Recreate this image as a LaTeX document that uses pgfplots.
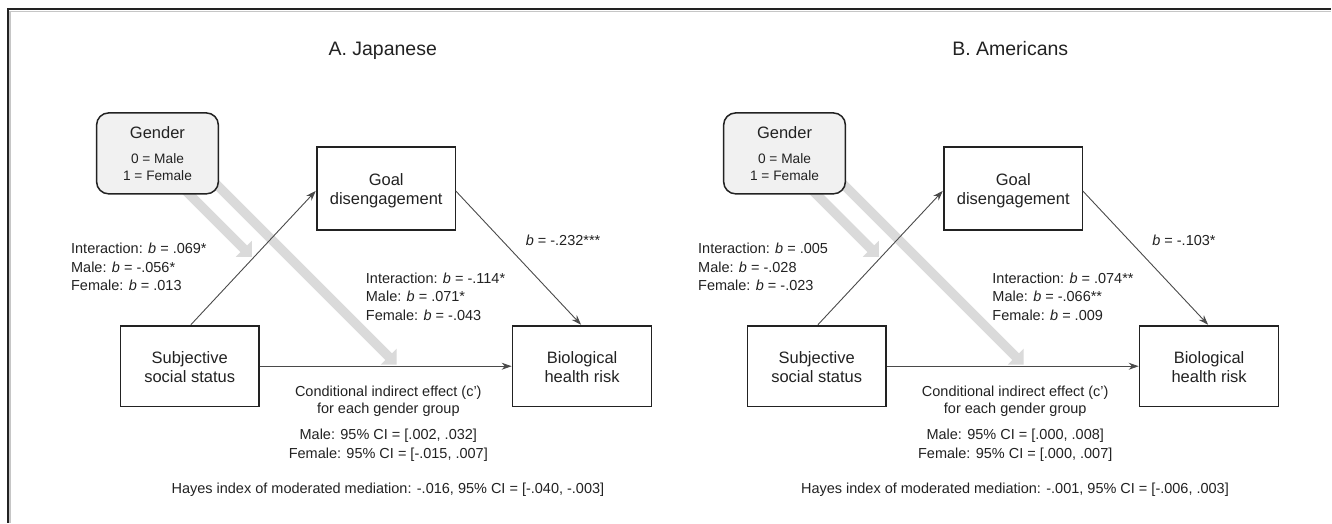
\documentclass[border=0pt]{standalone}
\usepackage{pgfplots}
\pgfplotsset{compat=1.18}
\usepackage{fontspec}
\setmainfont{Liberation Sans}
\usetikzlibrary{arrows.meta}
\definecolor{band}{HTML}{DADADA}
\definecolor{boxfill}{HTML}{F1F1F1}
\definecolor{ink}{HTML}{222222}
\definecolor{arr}{HTML}{4A4A4A}
\newcommand\ft{\fontsize{19.5bp}{23bp}\selectfont}
\newcommand\fb{\fontsize{16.5bp}{19bp}\selectfont}
\newcommand\fa{\fontsize{14.5bp}{17bp}\selectfont}
\newcommand\fs{\fontsize{13.7bp}{16bp}\selectfont}
\begin{document}
\begin{tikzpicture}
\begin{axis}[width=1332bp, height=523bp, scale only axis,
  xmin=0, xmax=1332, ymin=0, ymax=523, y dir=reverse,
  hide axis, clip=false]
% background
\addplot[draw=none, fill=white] coordinates {(0,0) (1332,0) (1332,523) (0,523)} -- cycle;
% frame
\addplot[gray!45, line width=1.2bp] coordinates {(10,523) (10,11.3) (1332,11.3)};
\addplot[ink, line width=2bp] coordinates {(8.5,523) (8.5,9.5) (1332,9.5)};

% ===== Panel A =====
\addplot[draw=none, fill=band] coordinates {(183.36,181.64) (247.36,245.64) (252,241) (252,257) (236,257) (240.64,252.36) (176.64,188.36)} -- cycle;
\addplot[draw=none, fill=band] coordinates {(210.36,171.64) (392.36,353.64) (397,349) (397,365) (381,365) (385.64,360.36) (203.64,178.36)} -- cycle;
\addplot[ink, line width=1.5bp, fill=boxfill, rounded corners=12bp] coordinates {(96.7,113) (218.5,113) (218.5,194) (96.7,194)} -- cycle;
\addplot[ink, line width=1.5bp, fill=white] coordinates {(317,147) (456,147) (456,230) (317,230)} -- cycle;
\addplot[ink, line width=1.5bp, fill=white] coordinates {(120.5,326) (259,326) (259,407) (120.5,407)} -- cycle;
\addplot[ink, line width=1.5bp, fill=white] coordinates {(513,326) (652,326) (652,407) (513,407)} -- cycle;
\addplot[arr, line width=0.9bp, -{Stealth[length=10bp,width=7bp]}] coordinates {(191,325) (316,191)};
\addplot[arr, line width=0.9bp, -{Stealth[length=10bp,width=7bp]}] coordinates {(456,191) (581.5,325)};
\addplot[arr, line width=0.9bp, -{Stealth[length=10bp,width=7bp]}] coordinates {(259.8,366.5) (512,366.5)};

\begin{scope}[every node/.style={inner sep=0pt, text=ink}]
\node[anchor=base] at (axis cs:383,56) {\ft A. Japanese};
\node[anchor=base] at (axis cs:157.6,139) {\fb Gender};
\node[anchor=base] at (axis cs:157.6,164) {\fs 0 = Male};
\node[anchor=base] at (axis cs:157.6,181) {\fs 1 = Female};
\node[anchor=base] at (axis cs:386.5,186) {\fb Goal};
\node[anchor=base] at (axis cs:386.5,205) {\fb disengagement};
\node[anchor=base] at (axis cs:189.8,364) {\fb Subjective};
\node[anchor=base] at (axis cs:189.8,383) {\fb social status};
\node[anchor=base] at (axis cs:582.5,364) {\fb Biological};
\node[anchor=base] at (axis cs:582.5,383) {\fb health risk};
\node[anchor=base west] at (axis cs:71,254) {\fa Interaction: \textit{b} = .069*};
\node[anchor=base west] at (axis cs:71,272.5) {\fa Male: \textit{b} = -.056*};
\node[anchor=base west] at (axis cs:71,291) {\fa Female: \textit{b} = .013};
\node[anchor=base west] at (axis cs:526,246) {\fa \textit{b} = -.232***};
\node[anchor=base west] at (axis cs:366,284) {\fa Interaction: \textit{b} = -.114*};
\node[anchor=base west] at (axis cs:366,302) {\fa Male: \textit{b} = .071*};
\node[anchor=base west] at (axis cs:366,320.5) {\fa Female: \textit{b} = -.043};
\node[anchor=base] at (axis cs:388.6,397) {\fa Conditional indirect effect (c')};
\node[anchor=base] at (axis cs:388.6,414) {\fa for each gender group};
\node[anchor=base] at (axis cs:388.6,440) {\fa Male: 95\% CI = [.002, .032]};
\node[anchor=base] at (axis cs:388.6,459) {\fa Female: 95\% CI = [-.015, .007]};
\node[anchor=base] at (axis cs:388.2,494) {\fa Hayes index of moderated mediation: -.016, 95\% CI = [-.040, -.003]};
\end{scope}

% ===== Panel B (offset 627.5) =====
\addplot[draw=none, fill=band] coordinates {(810.86,181.64) (874.86,245.64) (879.5,241) (879.5,257) (863.5,257) (868.14,252.36) (804.14,188.36)} -- cycle;
\addplot[draw=none, fill=band] coordinates {(837.86,171.64) (1019.86,353.64) (1024.5,349) (1024.5,365) (1008.5,365) (1013.14,360.36) (831.14,178.36)} -- cycle;
\addplot[ink, line width=1.5bp, fill=boxfill, rounded corners=12bp] coordinates {(724.2,113) (846,113) (846,194) (724.2,194)} -- cycle;
\addplot[ink, line width=1.5bp, fill=white] coordinates {(944.5,147) (1083.5,147) (1083.5,230) (944.5,230)} -- cycle;
\addplot[ink, line width=1.5bp, fill=white] coordinates {(748,326) (886.5,326) (886.5,407) (748,407)} -- cycle;
\addplot[ink, line width=1.5bp, fill=white] coordinates {(1140.5,326) (1279.5,326) (1279.5,407) (1140.5,407)} -- cycle;
\addplot[arr, line width=0.9bp, -{Stealth[length=10bp,width=7bp]}] coordinates {(818.5,325) (943.5,191)};
\addplot[arr, line width=0.9bp, -{Stealth[length=10bp,width=7bp]}] coordinates {(1083.5,191) (1209,325)};
\addplot[arr, line width=0.9bp, -{Stealth[length=10bp,width=7bp]}] coordinates {(887.3,366.5) (1139.5,366.5)};

\begin{scope}[every node/.style={inner sep=0pt, text=ink}]
\node[anchor=base] at (axis cs:1011,56) {\ft B. Americans};
\node[anchor=base] at (axis cs:785.1,139) {\fb Gender};
\node[anchor=base] at (axis cs:785.1,164) {\fs 0 = Male};
\node[anchor=base] at (axis cs:785.1,181) {\fs 1 = Female};
\node[anchor=base] at (axis cs:1014,186) {\fb Goal};
\node[anchor=base] at (axis cs:1014,205) {\fb disengagement};
\node[anchor=base] at (axis cs:817.3,364) {\fb Subjective};
\node[anchor=base] at (axis cs:817.3,383) {\fb social status};
\node[anchor=base] at (axis cs:1210,364) {\fb Biological};
\node[anchor=base] at (axis cs:1210,383) {\fb health risk};
\node[anchor=base west] at (axis cs:698.5,254) {\fa Interaction: \textit{b} = .005};
\node[anchor=base west] at (axis cs:698.5,272.5) {\fa Male: \textit{b} = -.028};
\node[anchor=base west] at (axis cs:698.5,291) {\fa Female: \textit{b} = -.023};
\node[anchor=base west] at (axis cs:1153,246) {\fa \textit{b} = -.103*};
\node[anchor=base west] at (axis cs:993,284) {\fa Interaction: \textit{b} = .074**};
\node[anchor=base west] at (axis cs:993,302) {\fa Male: \textit{b} = -.066**};
\node[anchor=base west] at (axis cs:993,320.5) {\fa Female: \textit{b} = .009};
\node[anchor=base] at (axis cs:1016,397) {\fa Conditional indirect effect (c')};
\node[anchor=base] at (axis cs:1016,414) {\fa for each gender group};
\node[anchor=base] at (axis cs:1016,440) {\fa Male: 95\% CI = [.000, .008]};
\node[anchor=base] at (axis cs:1016,459) {\fa Female: 95\% CI = [.000, .007]};
\node[anchor=base] at (axis cs:1015.7,494) {\fa Hayes index of moderated mediation: -.001, 95\% CI = [-.006, .003]};
\end{scope}
\end{axis}
\end{tikzpicture}
\end{document}
